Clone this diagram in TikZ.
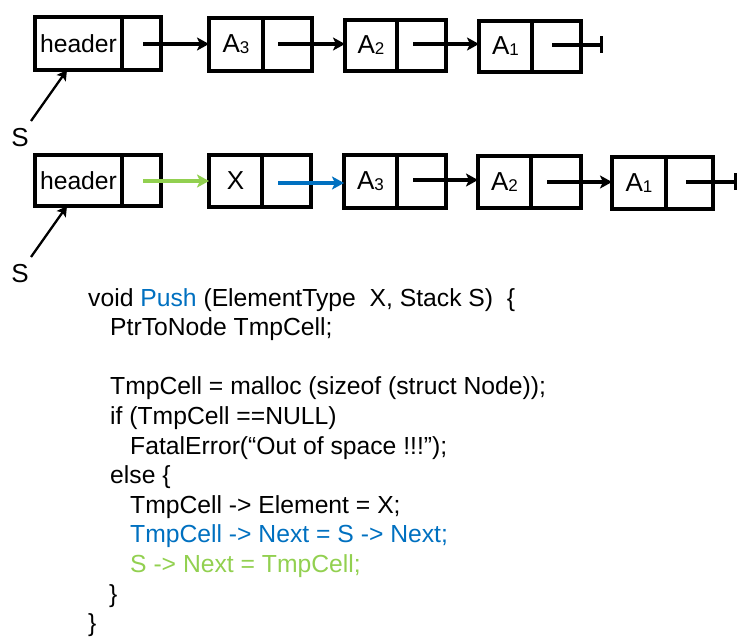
\documentclass[tikz,border=0pt]{standalone}
\usepackage{fontspec}
\setmainfont{Liberation Sans}
\usetikzlibrary{arrows.meta,calc}
\definecolor{pgreen}{HTML}{92D050}
\definecolor{pblue}{HTML}{0070C0}
\newcommand\Asub[1]{A\raisebox{-1pt}{\fontsize{17}{17}\selectfont #1}}
\tikzset{
  cell/.style={draw, line width=3.3pt, anchor=north west, inner sep=0pt, outer sep=0pt,
    font=\fontsize{26}{26}\selectfont},
  hdr/.style={cell, font=\fontsize{24.7}{24.7}\selectfont},
  ptr/.style={line width=3.2pt, -{Stealth[length=12pt,width=13pt,inset=3pt]}},
  nullptr/.style={line width=3.2pt, -{Bar[width=17pt]}},
  sarrow/.style={line width=2.3pt, -{Stealth[length=10pt,width=11pt,inset=2pt]}},
  slabel/.style={inner sep=0pt, font=\fontsize{26}{26}\selectfont},
  code/.style={anchor=base west, inner sep=0pt, font=\fontsize{24.7}{24.7}\selectfont}
}
\begin{document}
\begin{tikzpicture}[x=1pt,y=-1pt]
\useasboundingbox (0,0) rectangle (744,644);
% ---- row 1
\node[hdr, minimum width=87pt, minimum height=53pt] (h1) at (35,17) {header};
\node[cell, minimum width=39pt, minimum height=53pt] (h1p) at (h1.north east) {};
\node[cell, minimum width=54pt, minimum height=53pt] (a3) at (209,18) {\Asub{3}};
\node[cell, minimum width=49pt, minimum height=53pt] (a3p) at (a3.north east) {};
\node[cell, minimum width=52pt, minimum height=51pt] (a2) at (345,20) {\Asub{2}};
\node[cell, minimum width=49pt, minimum height=51pt] (a2p) at (a2.north east) {};
\node[cell, minimum width=53pt, minimum height=51pt] (a1) at (479,21) {\Asub{1}};
\node[cell, minimum width=49pt, minimum height=51pt] (a1p) at (a1.north east) {};
\coordinate (c1) at (143,44);
\coordinate (c2) at (278,44);
\coordinate (c3) at (413,44);
\coordinate (c4) at (552,45);
\coordinate (n1) at (603,45);
\draw[ptr] (c1) -- (c1 -| a3.west);
\draw[ptr] (c2) -- (c2 -| a2.west);
\draw[ptr] (c3) -- (c3 -| a1.west);
\draw[nullptr] (c4) -- (n1);
\node[slabel] (S1) at (20,138) {S};
\coordinate (s1t) at (31,121);
\draw[sarrow] (s1t) -- ($(h1.south west)+(32,0)$);
% ---- row 2
\node[hdr, minimum width=87pt, minimum height=51pt] (h2) at (35,155) {header};
\node[cell, minimum width=39pt, minimum height=51pt] (h2p) at (h2.north east) {};
\node[cell, minimum width=53pt, minimum height=52pt] (x2) at (209,155) {X};
\node[cell, minimum width=49pt, minimum height=52pt] (x2p) at (x2.north east) {};
\node[cell, minimum width=53pt, minimum height=53pt] (b3) at (344,155) {\Asub{3}};
\node[cell, minimum width=49pt, minimum height=53pt] (b3p) at (b3.north east) {};
\node[cell, minimum width=53pt, minimum height=52pt] (b2) at (478,156) {\Asub{2}};
\node[cell, minimum width=50pt, minimum height=52pt] (b2p) at (b2.north east) {};
\node[cell, minimum width=54pt, minimum height=52pt] (b1) at (612,157) {\Asub{1}};
\node[cell, minimum width=47pt, minimum height=52pt] (b1p) at (b1.north east) {};
\coordinate (d1) at (143,181);
\coordinate (d2) at (278,183);
\coordinate (d3) at (413,180);
\coordinate (d4) at (547,182);
\coordinate (d5) at (686,182);
\coordinate (n2) at (737,182);
\draw[ptr, pgreen] (d1) -- (d1 -| x2.west);
\draw[ptr, pblue] (d2) -- (d2 -| b3.west);
\draw[ptr] (d3) -- (d3 -| b2.west);
\draw[ptr] (d4) -- (d4 -| b1.west);
\draw[nullptr] (d5) -- (n2);
\node[slabel] (S2) at (20,274) {S};
\coordinate (s2t) at (31,257);
\draw[sarrow] (s2t) -- ($(h2.south west)+(32,0)$);
% ---- code
\node[code] (l1) at (88,306) {void \textcolor{pblue}{Push} (ElementType~ X, Stack S)~ \{};
\node[code] (l2) at (110,335.6) {PtrToNode TmpCell;};
\node[code] (l4) at (110,394.8) {TmpCell = malloc (sizeof (struct Node));};
\node[code] (l5) at (110,424.4) {if (TmpCell ==NULL)};
\node[code] (l6) at (130,454) {FatalError(“Out of space !!!”);};
\node[code] (l7) at (110,483.6) {else \{};
\node[code] (l8) at (130,513.2) {TmpCell -> Element = X;};
\node[code, text=pblue] (l9) at (130,542.8) {TmpCell -> Next = S -> Next;};
\node[code, text=pgreen] (l10) at (130,572.4) {S -> Next = TmpCell;};
\node[code] (l11) at (109,602) {\}};
\node[code] (l12) at (88,631.6) {\}};
\end{tikzpicture}
\end{document}
